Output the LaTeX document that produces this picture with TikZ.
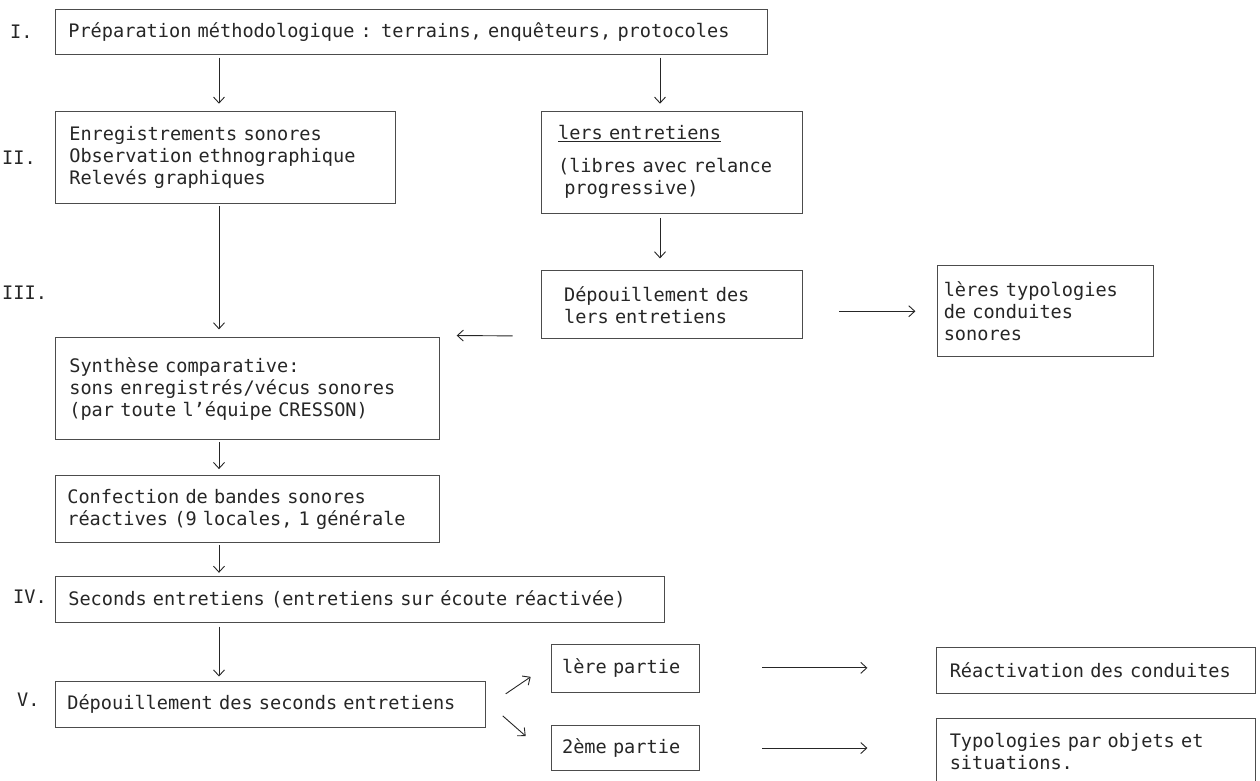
\documentclass[tikz,border=0pt]{standalone}
\usepackage{fontspec}
\setmainfont{DejaVu Sans Mono}
\usetikzlibrary{positioning, arrows.meta, calc}

\tikzset{
  etape/.style={draw=black!70, line width=0.7pt, anchor=north west, align=left, inner ysep=0pt, text=black!85},
  num/.style={anchor=west, inner sep=0pt, text=black!85},
  fleche/.style={-{Straight Barb[length=6pt, width=11pt]}, line width=0.9pt, black!85},
}

\begin{document}
\begin{tikzpicture}[x=1pt, y=-1pt, font=\fontsize{18.6}{22}\selectfont]
\useasboundingbox (0,0) rectangle (1260,781);

% colonne principale
\node[etape, inner xsep=13pt, text width=686pt, minimum height=45pt] (prep) at (55,9) {Préparation méthodologique : terrains, enquêteurs, protocoles};
\node[etape, inner xsep=14pt, text width=312pt, minimum height=92pt, below=56pt of prep.south west, anchor=north west] (enreg) {Enregistrements sonores\\Observation ethnographique\\Relevés graphiques};
\node[etape, inner xsep=14pt, text width=356pt, minimum height=102pt, below=134pt of enreg.south west, anchor=north west] (synth) {Synthèse comparative:\\sons enregistrés/vécus sonores\\(par toute l'équipe CRESSON)};
\node[etape, inner xsep=12pt, text width=360pt, minimum height=67pt, below=35pt of synth.south west, anchor=north west] (confec) {Confection de bandes sonores\\réactives (9 locales, 1 générale};
\node[etape, inner xsep=13pt, text width=583pt, minimum height=46pt, below=33pt of confec.south west, anchor=north west] (second) {Seconds entretiens (entretiens sur écoute réactivée)};
\node[etape, inner xsep=12pt, text width=406pt, minimum height=46pt, below=58pt of second.south west, anchor=north west] (depou2) {Dépouillement des seconds entretiens};

% branche de droite
\node[etape, inner xsep=17pt, text width=227pt, minimum height=102pt, right=145pt of enreg.north east, anchor=north west] (entr1) {\underline{lers entretiens}\\[11pt](libres avec relance\\~progressive)};
\node[etape, inner xsep=23pt, text width=215pt, minimum height=68pt, below=57pt of entr1.south west, anchor=north west] (depou1) {Dépouillement des\\lers entretiens};
\node[etape, inner xsep=6pt, text width=204pt, minimum height=91pt, right=135pt of depou1.north east, anchor=north west, yshift=5pt] (typo1) {lères typologies\\de conduites\\sonores};

% seconds entretiens
\node[etape, inner xsep=11pt, text width=126pt, minimum height=48pt, right=65pt of depou2.north east, anchor=north west, yshift=37pt] (partie1) {lère partie};
\node[etape, inner xsep=11pt, text width=126pt, minimum height=45pt, right=65pt of depou2.south east, anchor=north west, yshift=2pt] (partie2) {2ème partie};
\node[etape, inner xsep=13pt, text width=293pt, minimum height=46pt, right=237pt of partie1.north east, anchor=north west, yshift=-3pt] (reactiv) {Réactivation des conduites};
\node[etape, inner xsep=13pt, text width=293pt, minimum height=65pt, right=237pt of partie2.north east, anchor=north west, yshift=7pt] (typo2) {Typologies par objets et\\situations.};

% numeros des phases
\node[num] (n1) at (10,32) {I.};
\node[num] (n2) at (2,158) {II.};
\node[num] (n3) at (2,293) {III.};
\node[num] (n4) at (13,597) {IV.};
\node[num] (n5) at (17,700) {V.};

\coordinate (axeg) at (219,0);
\coordinate (axed) at (660,0);

\draw[fleche, shorten <=3pt, shorten >=7pt] (prep.south -| axeg) -- (enreg.north -| axeg);
\draw[fleche, shorten <=3pt, shorten >=7pt] (prep.south -| axed) -- (entr1.north -| axed);
\draw[fleche, shorten <=5pt, shorten >=12pt] (entr1.south -| axed) -- (depou1.north -| axed);
\draw[fleche, shorten <=3pt, shorten >=8pt] (enreg.south -| axeg) -- (synth.north -| axeg);
\draw[fleche, shorten <=28pt, shorten >=17pt] ([yshift=3pt]depou1.south west) -- ([yshift=2pt]synth.north east);
\draw[fleche, shorten <=37pt, shorten >=22pt] (depou1.east |- typo1.west) -- (typo1.west);
\draw[fleche, shorten <=2pt, shorten >=6pt] (synth.south -| axeg) -- (confec.north -| axeg);
\draw[fleche, shorten <=2pt, shorten >=3pt] (confec.south -| axeg) -- (second.north -| axeg);
\draw[fleche, shorten <=4pt, shorten >=4pt] (second.south -| axeg) -- (depou2.north -| axeg);
\draw[fleche] ([shift={(20pt,10pt)}]depou2.east) -- ([shift={(-20pt,-9pt)}]partie1.west);
\draw[fleche] ([shift={(17pt,-12pt)}]depou2.east) -- ([shift={(-25pt,12pt)}]partie2.west);
\draw[fleche, shorten <=63pt, shorten >=69pt] (partie1.east) -- (partie1.east -| reactiv.west);
\draw[fleche, shorten <=63pt, shorten >=69pt] (partie2.east) -- (partie2.east -| typo2.west);

\end{tikzpicture}
\end{document}
